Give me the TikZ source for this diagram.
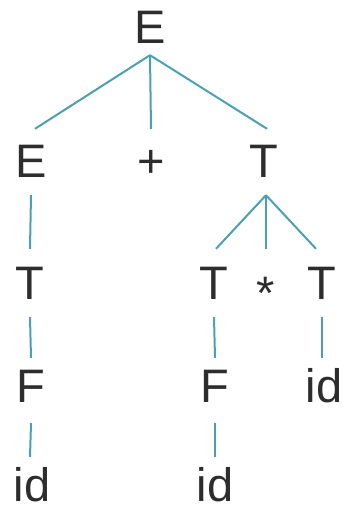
\documentclass[tikz,border=0pt]{standalone}
\usepackage{fontspec}
\setmainfont{Liberation Sans}
\definecolor{edgeblue}{RGB}{75,160,180}
\definecolor{symtext}{RGB}{45,45,45}
\begin{document}
\begin{tikzpicture}[x=1pt,y=1pt,
  sym/.style={font=\fontsize{47}{50}\selectfont, text=symtext, inner sep=0pt,
    anchor=base, text height=34pt, text depth=0pt},
  edge/.style={draw=edgeblue, line width=2pt}]
\useasboundingbox (0,0) rectangle (345,510);
% row 1
\node[sym] (E0) at (150,466) {E};
% row 2
\node[sym] (E1) at (31,332) {E};
\node[sym] (P)  at (151,332) {+};
\node[sym] (T1) at (264,332) {T};
% row 3
\node[sym] (T2) at (30,210) {T};
\node[sym] (T3) at (214,210) {T};
\node[sym] (S)  at (266,210) {\raisebox{-10pt}{*}};
\node[sym] (T4) at (322,210) {T};
% row 4
\node[sym] (F1) at (31,107) {F};
\node[sym] (F2) at (215,107) {F};
\node[sym] (I3) at (324,107) {id};
% row 5
\node[sym] (I1) at (32,9) {id};
\node[sym] (I2) at (215,9) {id};
% edges row 1 -> 2
\draw[edge] ([yshift=-11pt]E0.south) -- ([xshift=4pt,yshift=15pt]E1.north);
\draw[edge] ([yshift=-11pt]E0.south) -- ([yshift=15pt]P.north);
\draw[edge] ([yshift=-11pt]E0.south) -- ([xshift=3pt,yshift=15pt]T1.north);
% edges row 2 -> 3
\draw[edge] ([yshift=-17pt]E1.south) -- ([yshift=17pt]T2.north);
\draw[edge] ([xshift=2pt,yshift=-17pt]T1.south) -- ([xshift=2pt,yshift=17pt]T3.north);
\draw[edge] ([xshift=2pt,yshift=-17pt]T1.south) -- ([yshift=17pt]S.north);
\draw[edge] ([xshift=2pt,yshift=-17pt]T1.south) -- ([xshift=-6pt,yshift=17pt]T4.north);
% edges row 3 -> 4
\draw[edge] ([yshift=-17pt]T2.south) -- ([yshift=11pt]F1.north);
\draw[edge] ([yshift=-17pt]T3.south) -- ([yshift=11pt]F2.north);
\draw[edge] ([yshift=-17pt]T4.south) -- ([xshift=-2pt,yshift=11pt]I3.north);
% edges row 4 -> 5
\draw[edge] ([yshift=-20pt]F1.south) -- ([xshift=-2pt,yshift=10pt]I1.north);
\draw[edge] ([yshift=-20pt]F2.south) -- ([yshift=10pt]I2.north);
\end{tikzpicture}
\end{document}
